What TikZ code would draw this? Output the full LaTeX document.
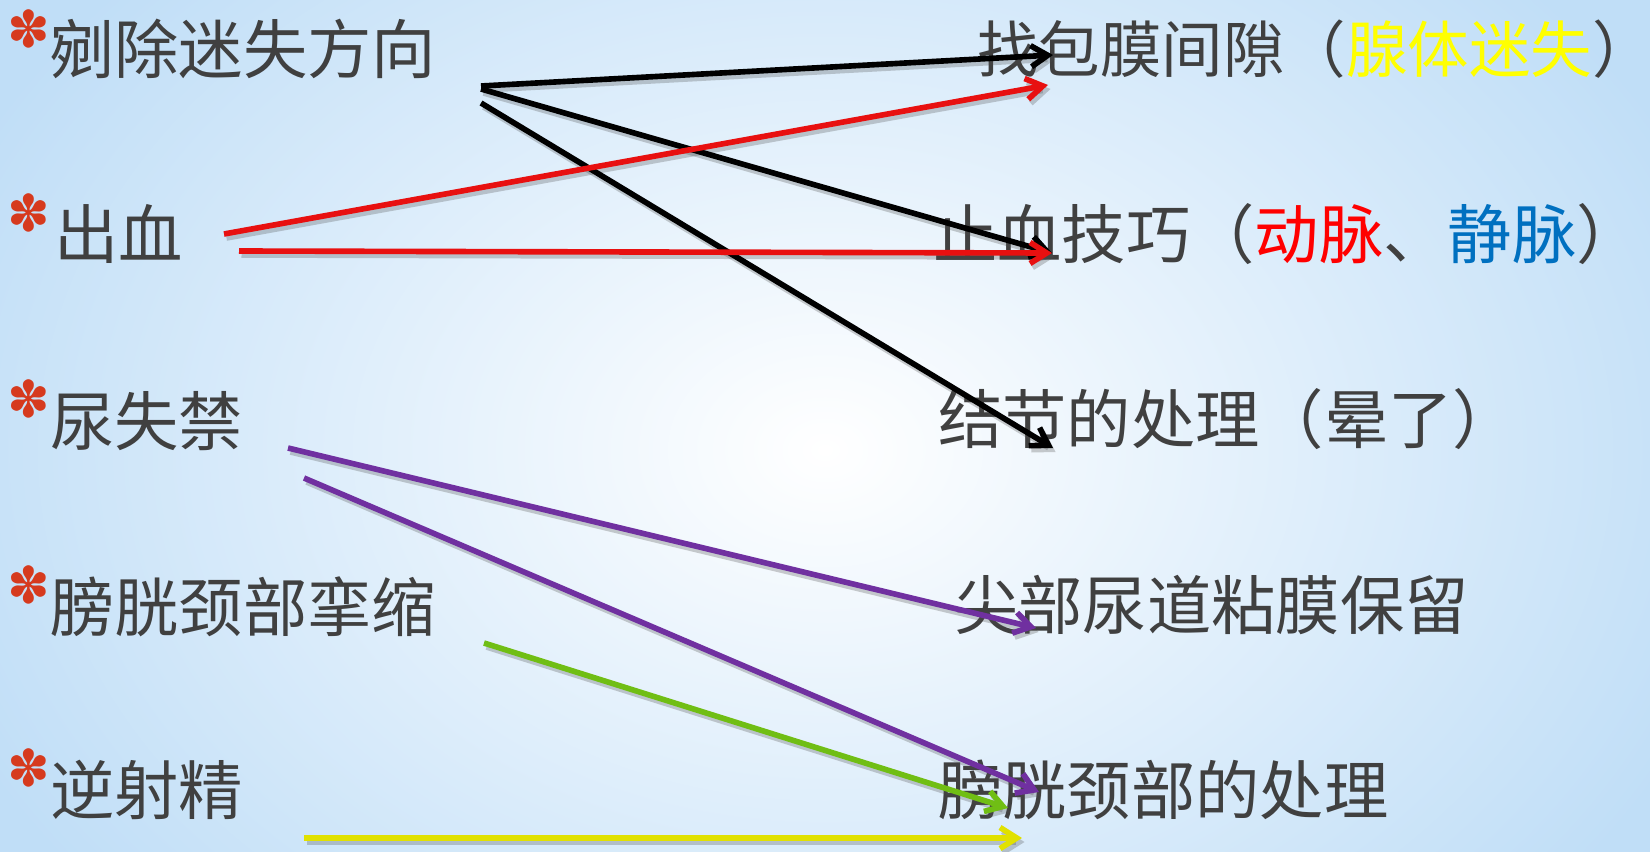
\documentclass[tikz,border=0pt]{standalone}
\usepackage{fontspec}
\usetikzlibrary{arrows.meta,fadings}
\newfontfamily\cjk{Noto Sans CJK SC}
\newfontfamily\dv{DejaVu Sans}
\definecolor{txt}{RGB}{64,64,64}
\definecolor{bgblue}{RGB}{192,222,247}
\definecolor{bandblue}{RGB}{180,215,244}
\definecolor{bulred}{RGB}{214,58,30}
\definecolor{tyel}{RGB}{255,255,0}
\definecolor{tred}{RGB}{255,0,0}
\definecolor{tblue}{RGB}{0,112,192}
\definecolor{ared}{RGB}{232,16,16}
\definecolor{apur}{RGB}{112,48,160}
\definecolor{agrn}{RGB}{112,190,20}
\definecolor{ayel}{RGB}{225,225,0}
\tikzfading[name=bandfade, top color=transparent!100, middle color=transparent!0, bottom color=transparent!100]
\begin{document}
\begin{tikzpicture}[x=0.02cm,y=-0.02cm,
  lbl/.style={anchor=base west, inner sep=0pt, font=\cjk\fontsize{36.6pt}{42pt}\selectfont, text=txt},
  bul/.style={anchor=center, inner sep=0pt, font=\dv\fontsize{29pt}{30pt}\selectfont, text=bulred},
  conn/.style={line width=3.2pt, line cap=butt, -{Straight Barb[length=9.5pt,width=12pt]}},
  shadowc/.style={conn, draw=black!70, opacity=0.28, transform canvas={xshift=0.05cm,yshift=-0.08cm}}]
% background
\useasboundingbox (0,0) rectangle (1650,852);
\fill[bgblue] (0,0) rectangle (1650,852);
\begin{scope}
\clip (0,0) rectangle (1650,852);
\shade[inner color=white, outer color=bgblue] (-120,-250) rectangle (1770,1150);
\fill[bandblue, opacity=0.75, path fading=bandfade] (0,665) rectangle (1650,750);
\end{scope}
% bullets
\node[bul] (B1) at (29,29) {✽};
\node[bul] (B2) at (29,213) {✽};
\node[bul] (B3) at (29,399) {✽};
\node[bul] (B4) at (29,585) {✽};
\node[bul] (B5) at (29,768) {✽};
% left texts
\node[lbl] (L1) at (50,73) {剜除迷失方向};
\node[lbl] (L2) at (54,258) {出血};
\node[lbl] (L3) at (50,445) {尿失禁};
\node[lbl] (L4) at (50,631) {膀胱颈部挛缩};
\node[lbl] (L5) at (50,814) {逆射精};
% right texts
\node[lbl, font=\cjk\fontsize{35pt}{40pt}\selectfont] (R1) at (977,72) {找包膜间隙（{\color{tyel}腺体迷失}）\kern-0.5em};
\node[lbl] (R2) at (933,258) {止血技巧（{\color{tred}动脉}、{\color{tblue}静脉}）};
\node[lbl] (R3) at (938,443) {结节的处理（晕了）};
\node[lbl] (R4) at (954,629) {尖部尿道粘膜保留};
\node[lbl] (R5) at (938,814) {膀胱颈部的处理};
% connector ends
\coordinate (b1s) at (481,86);  \coordinate (b1e) at (1053,55);
\coordinate (b2s) at (481,89);  \coordinate (b2e) at (1052,253);
\coordinate (b3s) at (481,103); \coordinate (b3e) at (1053,448);
\coordinate (r1s) at (224,234); \coordinate (r1e) at (1048,85);
\coordinate (r2s) at (239,251); \coordinate (r2e) at (1052,253);
\coordinate (p1s) at (288,448); \coordinate (p1e) at (1036,628);
\coordinate (p2s) at (304,478); \coordinate (p2e) at (1039,792);
\coordinate (gs) at (484,643);  \coordinate (ge) at (1008,808);
\coordinate (ys) at (304,838);  \coordinate (ye) at (1022,838);
% shadows
\foreach \a/\b in {b1s/b1e,b2s/b2e,b3s/b3e,r1s/r1e,r2s/r2e,p1s/p1e,p2s/p2e,gs/ge,ys/ye}
  \draw[shadowc] (\a) -- (\b);
% connectors
\draw[conn, draw=black] (b1s) -- (b1e);
\draw[conn, draw=black] (b2s) -- (b2e);
\draw[conn, draw=black] (b3s) -- (b3e);
\draw[conn, draw=ared] (r1s) -- (r1e);
\draw[conn, draw=ared] (r2s) -- (r2e);
\draw[conn, draw=apur] (p1s) -- (p1e);
\draw[conn, draw=apur] (p2s) -- (p2e);
\draw[conn, draw=agrn] (gs) -- (ge);
\draw[conn, draw=ayel] (ys) -- (ye);
\end{tikzpicture}
\end{document}
